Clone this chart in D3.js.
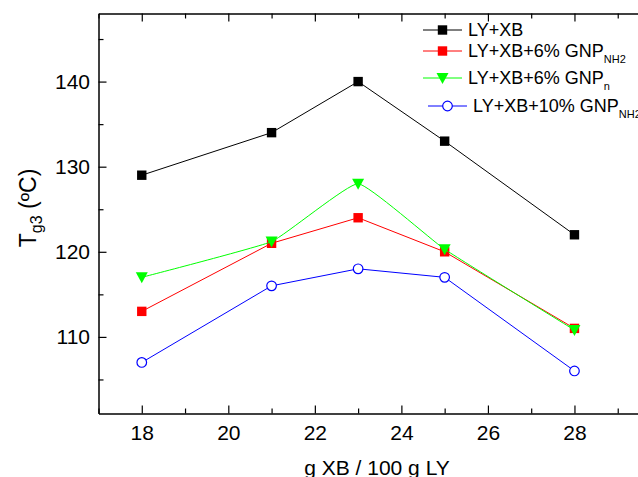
<!DOCTYPE html>
<html><head><meta charset="utf-8">
<script src="https://cdn.jsdelivr.net/npm/d3@7"></script>
<style>body{margin:0;background:#fff}svg{display:block}text{font-family:"Liberation Sans",Arial,sans-serif;fill:#000}</style>
</head><body>
<svg id="c" width="638" height="477"></svg>
<script>
const xValues = [18, 21, 23, 25, 28];
const lyxb = [129, 134, 140, 133, 122];
const gnpNH2_6 = [113, 121, 124, 120, 111];
const gnpN_6 = [117, 121.2, 128, 120.3, 110.8];
const gnpNH2_10 = [107, 116, 118, 117, 106];
const xTicks = [18, 20, 22, 24, 26, 28];
const yTicks = [110, 120, 130, 140];

const svg = d3.select("#c");
const L = 98.5, R = 661, T = 13.5, B = 413.5;
const x = d3.scaleLinear().domain([17, 30]).range([L, R]);
const y = d3.scaleLinear().domain([101, 148]).range([B, T]);

const series = [
  {name: "LY+XB", sub: "", vals: lyxb, color: "#000000", marker: "square", curve: d3.curveLinear},
  {name: "LY+XB+6% GNP", sub: "NH2", vals: gnpNH2_6, color: "#ff0000", marker: "square", curve: d3.curveLinear},
  {name: "LY+XB+6% GNP", sub: "n", vals: gnpN_6, color: "#00ff00", marker: "tri", curve: d3.curveCardinal.tension(0.65)},
  {name: "LY+XB+10% GNP", sub: "NH2", vals: gnpNH2_10, color: "#0000ff", marker: "circle", curve: d3.curveLinear}
];

const minorX = d3.range(17, 30.01, 1).filter(v => v % 2 === 1);
const minorY = d3.range(105, 148, 10);
const g = svg.append("g");
function axisStyle(sel){ sel.select(".domain").attr("stroke","#000").attr("stroke-width",1.5); sel.selectAll(".tick line").attr("stroke","#000").attr("stroke-width",1.2); }
// bottom
g.append("g").attr("transform",`translate(0,${B})`).call(d3.axisBottom(x).tickValues(xTicks).tickSizeInner(-8).tickSizeOuter(0).tickPadding(11.5).tickFormat(d3.format("d")))
  .call(axisStyle).call(s=>s.selectAll("text").attr("font-size",21));
g.append("g").attr("transform",`translate(0,${B})`).call(d3.axisBottom(x).tickValues(minorX).tickSizeInner(-5).tickSizeOuter(0).tickFormat(""))
  .call(axisStyle).call(s=>s.select(".domain").remove());
// top
g.append("g").attr("transform",`translate(0,${T})`).call(d3.axisTop(x).tickValues(xTicks).tickSizeInner(-8).tickSizeOuter(0).tickFormat(""))
  .call(axisStyle);
g.append("g").attr("transform",`translate(0,${T})`).call(d3.axisTop(x).tickValues(minorX).tickSizeInner(-5).tickSizeOuter(0).tickFormat(""))
  .call(axisStyle).call(s=>s.select(".domain").remove());
// left
g.append("g").attr("transform",`translate(${L},0)`).call(d3.axisLeft(y).tickValues(yTicks).tickSizeInner(-8).tickSizeOuter(0).tickPadding(8.5).tickFormat(d3.format("d")))
  .call(axisStyle).call(s=>s.selectAll("text").attr("font-size",21));
g.append("g").attr("transform",`translate(${L},0)`).call(d3.axisLeft(y).tickValues(minorY).tickSizeInner(-5).tickSizeOuter(0).tickFormat(""))
  .call(axisStyle).call(s=>s.select(".domain").remove());
// right
g.append("g").attr("transform",`translate(${R},0)`).call(d3.axisRight(y).tickValues(yTicks).tickSizeInner(-8).tickSizeOuter(0).tickFormat(""))
  .call(axisStyle);

// axis titles
svg.append("text").attr("x", 377).attr("y", 475).attr("text-anchor","middle").attr("font-size",21).text("g XB / 100 g LY");
const yt = svg.append("text").attr("transform","translate(36,208) rotate(-90)").attr("text-anchor","middle").attr("font-size",23);
yt.append("tspan").text("T");
yt.append("tspan").attr("font-size",16).attr("dy",6).text("g3");
yt.append("tspan").attr("dy",-6).text(" (ºC)");

function drawMarker(sel, type, color, cx, cy){
  if(type==="square") sel.append("rect").attr("x",cx-4.7).attr("y",cy-4.7).attr("width",9.4).attr("height",9.4).attr("fill",color);
  else if(type==="tri") sel.append("path").attr("d",`M${cx-6},${cy-5}L${cx+6},${cy-5}L${cx},${cy+6}Z`).attr("fill",color);
  else sel.append("circle").attr("cx",cx).attr("cy",cy).attr("r",4.8).attr("fill","#fff").attr("stroke",color).attr("stroke-width",1.2);
}

series.forEach(s => {
  const pts = xValues.map((xv,i)=>[xv, s.vals[i]]);
  const line = d3.line().x(d=>x(d[0])).y(d=>y(d[1])).curve(s.curve);
  svg.append("path").attr("d", line(pts)).attr("fill","none").attr("stroke",s.color).attr("stroke-width",1);
  const mg = svg.append("g");
  pts.forEach(p => drawMarker(mg, s.marker, s.color, x(p[0]), y(p[1])));
});

// legend
const legRows = [
  {y: 30, x0: 423, x1: 462, tx: 468},
  {y: 51, x0: 423, x1: 462, tx: 468},
  {y: 78, x0: 423, x1: 462, tx: 468},
  {y: 106, x0: 428, x1: 467, tx: 473}
];
series.forEach((s,i) => {
  const r = legRows[i];
  const lg = svg.append("g");
  lg.append("line").attr("x1",r.x0).attr("x2",r.x1).attr("y1",r.y).attr("y2",r.y).attr("stroke",s.color).attr("stroke-width",1);
  drawMarker(lg, s.marker, s.color, (r.x0+r.x1)/2, r.y);
  const t = lg.append("text").attr("x",r.tx).attr("y",r.y+6).attr("font-size",18);
  t.append("tspan").text(s.name);
  if(s.sub) t.append("tspan").attr("font-size",11).attr("dy",6).text(s.sub);
});
</script>
</body></html>
